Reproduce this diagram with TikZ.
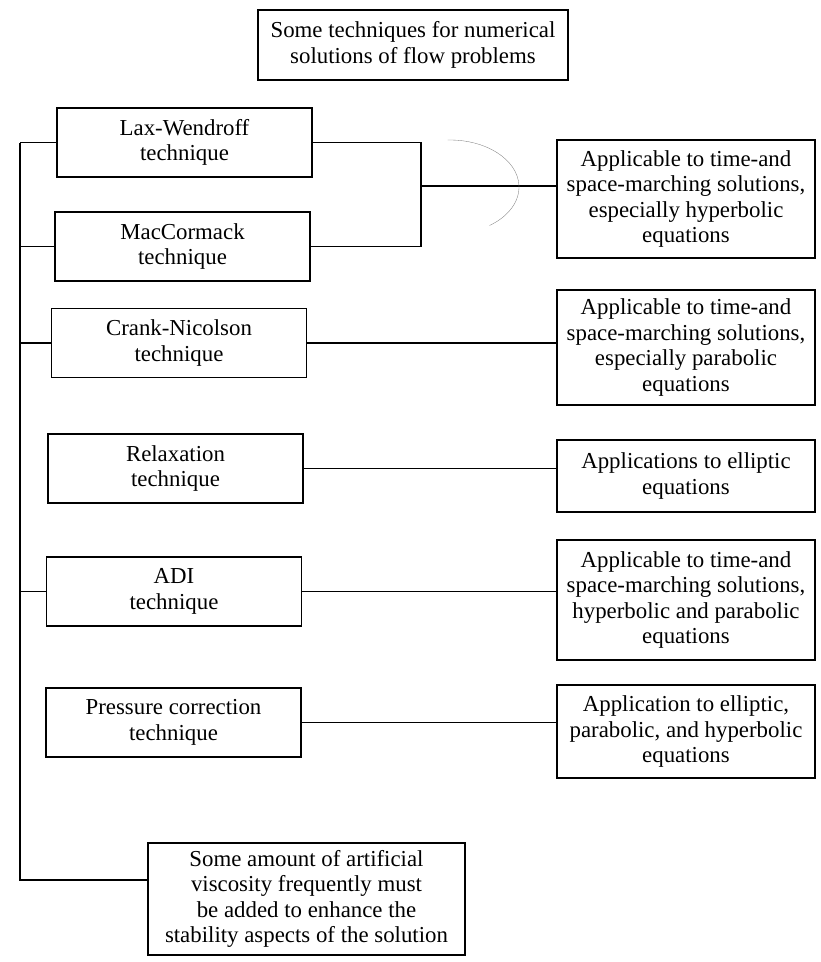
\documentclass[tikz,border=0pt]{standalone}
\usepackage{fontspec}
\setmainfont{Liberation Serif}
\begin{document}
\begin{tikzpicture}[font=\fontsize{13}{14.5}\selectfont, every node/.style={align=center}]
\tikzset{
  techbox/.style={draw, line width=0.7pt, minimum width=5.1cm, minimum height=1.38cm, inner sep=2pt},
  appbox/.style={draw, line width=0.7pt, minimum width=5.16cm, inner sep=2pt},
  link/.style={line width=0.7pt}
}
\useasboundingbox (0,0) rectangle (16.42,-19.24);

\node[draw, line width=0.7pt, minimum width=6.2cm, minimum height=1.4cm] (title) at (8.26,-0.90)
  {Some techniques for numerical\\solutions of flow problems};

% techniques
\node[techbox] (lw)  at (3.69,-2.85)  {Lax-Wendroff\\technique};
\node[techbox] (mac) at (3.65,-4.93)  {MacCormack\\technique};
\node[techbox] (cn)  at (3.58,-6.86)  {Crank-Nicolson\\technique};
\node[techbox] (rel) at (3.51,-9.37)  {Relaxation\\technique};
\node[techbox] (adi) at (3.48,-11.83) {ADI\\technique};
\node[techbox] (prs) at (3.47,-14.45) {Pressure correction\\technique};

% applications
\node[appbox, minimum height=2.36cm] (hyp) at (13.72,-3.98)
  {Applicable to time-and\\space-marching solutions,\\especially hyperbolic\\equations};
\node[appbox, minimum height=2.30cm] (par) at (13.72,-6.95)
  {Applicable to time-and\\space-marching solutions,\\especially parabolic\\equations};
\node[appbox, minimum height=1.44cm] (ell) at (13.72,-9.52)
  {Applications to elliptic\\equations};
\node[appbox, minimum height=2.40cm] (hp) at (13.72,-12.00)
  {Applicable to time-and\\space-marching solutions,\\hyperbolic and parabolic\\equations};
\node[appbox, minimum height=1.86cm] (all) at (13.72,-14.63)
  {Application to elliptic,\\parabolic, and hyperbolic\\equations};

\node[draw, line width=0.7pt, minimum width=6.34cm, minimum height=2.24cm] (visc) at (6.13,-17.98)
  {Some amount of artificial\\viscosity frequently must\\be added to enhance the\\stability aspects of the solution};

% left spine
\coordinate (spine) at (0.40,-2.85);
\coordinate (spineend) at (0.40,-17.60);
\draw[link] (spine) -- (spineend) -- (spineend -| visc.west);
\foreach \n in {lw,mac,cn,adi}
  \draw[link] (\n.west) -- (\n.west -| spine);

% joined branch
\coordinate (jn) at (8.42,-3.72);
\draw[link] (lw.east) -| (jn) |- (mac.east);
\draw[link] (jn) -- (jn -| hyp.west);
\draw[gray, very thin] (9.0,-3.74) ++(92:1.38 and 0.94)
  arc[start angle=92, end angle=-55, x radius=1.38, y radius=0.94];

\draw[link] (cn.east) -- (cn.east -| par.west);
\draw[link] (rel.east) -- (rel.east -| ell.west);
\draw[link] (adi.east) -- (adi.east -| hp.west);
\draw[link] (prs.east) -- (prs.east -| all.west);
\end{tikzpicture}
\end{document}
